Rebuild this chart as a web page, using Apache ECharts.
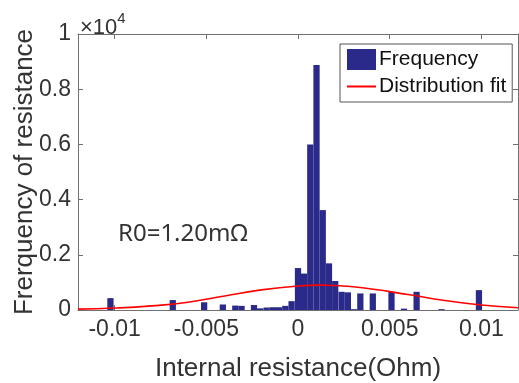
<!DOCTYPE html>
<html>
<head>
<meta charset="utf-8">
<script src="https://cdn.jsdelivr.net/npm/echarts@6/dist/echarts.min.js"></script>
<style>
html,body{margin:0;padding:0;background:#fff;}
#chart{width:519px;height:383px;}
</style>
</head>
<body>
<div id="chart"></div>
<script>
// Histogram bins (bin centre in Ohm) and counts
var binCenters = [-0.01023, -0.00683, -0.00512, -0.00410, -0.00342, -0.00308, -0.00240, -0.00206,
  -0.00171, -0.00137, -0.00103, -0.00069, -0.00035, 0.00000, 0.00033, 0.00067, 0.00101, 0.00135,
  0.00169, 0.00203, 0.00238, 0.00272, 0.00306, 0.00340, 0.00408, 0.00510, 0.00578, 0.00647,
  0.00783, 0.00987];
var binCounts = [430, 360, 280, 200, 160, 150, 180, 60,
  90, 100, 100, 150, 320, 1520, 1320, 6000, 8880, 3620,
  1690, 1050, 660, 640, 30, 600, 600, 650, 50, 660,
  30, 720];
var binWidth = 0.000341;
// Distribution fit curve
var fitX = [-0.012, -0.010, -0.008, -0.006, -0.004, -0.002, 0, 0.0012, 0.002, 0.004, 0.006, 0.008, 0.010, 0.012];
var fitY = [30, 70, 150, 280, 510, 730, 870, 900, 890, 760, 560, 345, 180, 80];
// Tick labels
var xTicks = [-0.01, -0.005, 0, 0.005, 0.01];
var xTickLabels = ['-0.01', '-0.005', '0', '0.005', '0.01'];
var yTickLabels = ['0', '0.2', '0.4', '0.6', '0.8', '1'];
var seriesNames = ['Frequency', 'Distribution fit'];

var histData = binCenters.map(function (c, i) { return [c, binCounts[i]]; });
var fitData = fitX.map(function (x, i) { return [x, fitY[i]]; });

var axisColor = '#707070';
var textColor = '#333333';
var font = 'Liberation Sans, Arial, sans-serif';

var chart = echarts.init(document.getElementById('chart'), null, {renderer: 'canvas'});
chart.setOption({
  animation: false,
  backgroundColor: '#ffffff',
  grid: {left: 78, top: 34, right: 1, bottom: 73, containLabel: false, outerBoundsMode: 'none'},
  legend: {
    orient: 'vertical',
    left: 340, top: 44,
    padding: [5, 6, 5, 6],
    itemWidth: 29, itemHeight: 21, itemGap: 6,
    backgroundColor: '#ffffff',
    borderColor: '#555555', borderWidth: 1,
    textStyle: {fontFamily: font, fontSize: 21, color: '#111111', padding: [0, 0, 0, -2]},
    data: [
      {name: seriesNames[0], icon: 'rect'},
      {name: seriesNames[1], itemStyle: {opacity: 0}}
    ]
  },
  xAxis: [{
    type: 'value', min: -0.012, max: 0.012, position: 'bottom',
    name: 'Internal resistance(Ohm)', nameLocation: 'middle', nameGap: 46,
    nameTextStyle: {fontFamily: font, fontSize: 26, color: textColor},
    axisLine: {show: true, onZero: false, lineStyle: {color: axisColor, width: 1}},
    axisTick: {show: true, inside: true, length: 5, lineStyle: {color: axisColor}, customValues: xTicks},
    axisLabel: {show: true, margin: 8, fontFamily: font, fontSize: 23, color: textColor,
      customValues: xTicks,
      formatter: function (v) { var i = xTicks.indexOf(v); return i >= 0 ? xTickLabels[i] : ''; }},
    splitLine: {show: false}
  }, {
    type: 'value', min: -0.012, max: 0.012, position: 'top',
    axisLine: {show: true, onZero: false, lineStyle: {color: axisColor, width: 1}},
    axisTick: {show: true, inside: true, length: 5, lineStyle: {color: axisColor}, customValues: xTicks},
    axisLabel: {show: false},
    splitLine: {show: false}
  }],
  yAxis: [{
    type: 'value', min: 0, max: 10000, interval: 2000, position: 'left',
    name: 'Frerquency of resistance', nameLocation: 'middle', nameGap: 40, nameMoveOverlap: false,
    nameTextStyle: {fontFamily: font, fontSize: 26, color: textColor},
    axisLine: {show: true, onZero: false, lineStyle: {color: axisColor, width: 1}},
    axisTick: {show: true, inside: true, length: 5, lineStyle: {color: axisColor}},
    axisLabel: {show: true, margin: 7, fontFamily: font, fontSize: 23, color: textColor,
      formatter: function (v) { return yTickLabels[Math.round(v / 2000)]; }},
    splitLine: {show: false}
  }, {
    type: 'value', min: 0, max: 10000, interval: 2000, position: 'right',
    axisLine: {show: true, onZero: false, lineStyle: {color: axisColor, width: 1}},
    axisTick: {show: true, inside: true, length: 5, lineStyle: {color: axisColor}},
    axisLabel: {show: false},
    splitLine: {show: false}
  }],
  graphic: [{
    type: 'text', left: 80, top: 11,
    style: {
      text: '{a|×10}{b|4}',
      rich: {
        a: {fontFamily: font, fontSize: 22, fill: textColor, verticalAlign: 'bottom', lineHeight: 28},
        b: {fontFamily: font, fontSize: 15, fill: textColor, verticalAlign: 'top', lineHeight: 28, padding: [0, 0, 12, 0]}
      }
    }
  }, {
    type: 'text', left: 118, top: 222,
    style: {text: 'R0=1.20mΩ', fontFamily: 'Noto Sans, sans-serif', fontSize: 24, fill: '#333333'}
  }],
  series: [{
    name: seriesNames[0],
    type: 'custom',
    xAxisIndex: 0, yAxisIndex: 0,
    itemStyle: {color: '#2a2a8a'},
    data: histData,
    encode: {x: 0, y: 1},
    renderItem: function (params, api) {
      var c = api.value(0), v = api.value(1);
      var p1 = api.coord([c - binWidth / 2, v]);
      var p2 = api.coord([c + binWidth / 2, 0]);
      return {
        type: 'rect',
        shape: {x: p1[0], y: p1[1], width: p2[0] - p1[0], height: p2[1] - p1[1]},
        style: {fill: '#2a2a8a'}
      };
    },
    z: 2
  }, {
    name: seriesNames[1],
    type: 'line',
    xAxisIndex: 0, yAxisIndex: 0,
    data: fitData,
    smooth: true,
    symbol: 'none',
    lineStyle: {color: '#ff0000', width: 1.6},
    itemStyle: {color: '#ff0000'},
    z: 3
  }]
});
</script>
</body>
</html>
